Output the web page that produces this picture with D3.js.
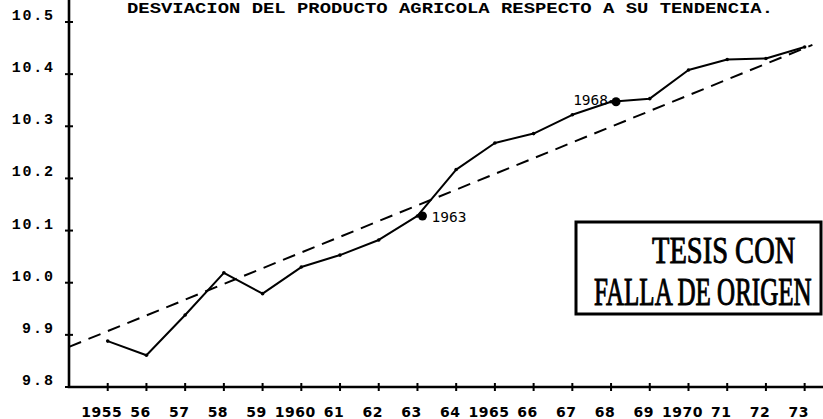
<!DOCTYPE html>
<html lang="es">
<head>
<meta charset="UTF-8">
<title>desviacion</title>
<script src="https://cdn.jsdelivr.net/npm/d3@7/dist/d3.min.js"></script>
<style>
  body { margin: 0; background: #fff; }
  .ylab { font-family: "Liberation Mono", monospace; font-weight: bold; font-size: 15px; }
  .xlab { font-family: "DejaVu Sans", sans-serif; font-weight: bold; font-size: 14px; letter-spacing: 0.5px; }
  .mark { font-family: "DejaVu Sans Mono", monospace; font-size: 14.5px; }
  .stamp text { font-family: "Liberation Serif", serif; stroke: #000; stroke-width: 0.7px; }
</style>
</head>
<body>
<svg width="823" height="419" id="mainsvg"></svg>
<script>
// data
const years = [1955, 1956, 1957, 1958, 1959, 1960, 1961, 1962, 1963, 1964,
               1965, 1966, 1967, 1968, 1969, 1970, 1971, 1972, 1973];
const producto = [9.888, 9.861, 9.938, 10.019, 9.979, 10.030, 10.053, 10.082, 10.128, 10.217,
                  10.268, 10.286, 10.322, 10.347, 10.353, 10.408, 10.428, 10.430, 10.452];
const trendYears = [1954, 1973.2];
const trendValues = [9.877, 10.456];
const markedYears = [1963, 1968];
const yTicks = [9.8, 9.9, 10.0, 10.1, 10.2, 10.3, 10.4, 10.5];
const xTickLabels = ["1955", "56", "57", "58", "59", "1960", "61", "62", "63", "64",
                     "1965", "66", "67", "68", "69", "1970", "71", "72", "73"];
const title = "DESVIACION DEL PRODUCTO AGRICOLA RESPECTO A SU TENDENCIA.";

const svg = d3.select('#mainsvg');
const x = d3.scaleLinear().domain([1954, 1973.5]).range([69, 824]);
const y = d3.scaleLinear().domain([9.8, 10.5]).range([387, 22]);

// title
svg.append('text')
    .attr('x', 127).attr('y', 13)
    .attr('textLength', 646).attr('lengthAdjust', 'spacingAndGlyphs')
    .style('font-family', '"Liberation Mono", monospace')
    .style('font-weight', 'bold').style('font-size', '15px')
    .text(title);

// axes
const x0 = x(1954), yBase = y(9.8);
svg.append('path')
    .attr('d', `M${x0},0V${yBase}H823`)
    .attr('fill', 'none').attr('stroke', '#000')
    .attr('stroke-width', 2.6);

svg.selectAll('.ytick').data(yTicks).join('rect')
    .attr('class', 'ytick')
    .attr('x', x0 - 4).attr('y', d => y(d) - 1)
    .attr('width', 8).attr('height', 2)
    .attr('fill', '#000');
svg.selectAll('.ylab').data(yTicks).join('text')
    .attr('class', 'ylab')
    .attr('x', 53).attr('y', d => y(d) - 2)
    .attr('text-anchor', 'end')
    .attr('textLength', d => d3.format('.1f')(d).length * 10.3)
    .attr('lengthAdjust', 'spacing')
    .text(d => d3.format('.1f')(d));

svg.selectAll('.xtick').data(years).join('rect')
    .attr('class', 'xtick')
    .attr('x', d => x(d) - 1).attr('y', yBase - 4)
    .attr('width', 2).attr('height', 8)
    .attr('fill', '#000');
svg.selectAll('.xlab').data(years).join('text')
    .attr('class', 'xlab')
    .attr('x', d => x(d) - 6).attr('y', 417)
    .attr('text-anchor', 'middle')
    .text((d, i) => xTickLabels[i]);

// trend (dashed)
const line = d3.line().x(d => x(d[0])).y(d => y(d[1]));
svg.append('path')
    .attr('d', line(d3.zip(trendYears, trendValues)))
    .attr('fill', 'none').attr('stroke', '#000')
    .attr('stroke-width', 2).attr('stroke-dasharray', '13,8');

// product series
const pts = d3.zip(years, producto);
svg.append('path')
    .attr('d', line(pts))
    .attr('fill', 'none').attr('stroke', '#000')
    .attr('stroke-width', 2).attr('stroke-linejoin', 'round');
svg.selectAll('.pt').data(pts).join('circle')
    .attr('class', 'pt')
    .attr('cx', d => x(d[0])).attr('cy', d => y(d[1])).attr('r', 1.8);

// marked years
const marked = pts.filter(d => markedYears.includes(d[0]));
svg.selectAll('.big').data(marked).join('circle')
    .attr('class', 'big')
    .attr('cx', d => x(d[0]) + 5).attr('cy', d => y(d[1])).attr('r', 4.5);
svg.selectAll('.mark').data(marked).join('text')
    .attr('class', 'mark')
    .attr('x', (d, i) => i === 0 ? x(d[0]) + 14 : x(d[0]) - 3)
    .attr('y', (d, i) => i === 0 ? y(d[1]) + 6 : y(d[1]) + 3)
    .attr('text-anchor', (d, i) => i === 0 ? 'start' : 'end')
    .text(d => d[0]);

// stamp
const stamp = svg.append('g').attr('class', 'stamp');
stamp.append('rect')
    .attr('x', 576).attr('y', 222).attr('width', 245).attr('height', 92)
    .attr('fill', 'none').attr('stroke', '#000').attr('stroke-width', 3);
stamp.append('text')
    .attr('transform', 'translate(652,263) scale(1,1.3)')
    .style('font-size', '28.5px')
    .text('TESIS CON');
stamp.append('text')
    .attr('transform', 'translate(594,305) scale(1,1.6)')
    .style('font-size', '25px')
    .text('FALLA DE ORIGEN');
</script>
</body>
</html>
